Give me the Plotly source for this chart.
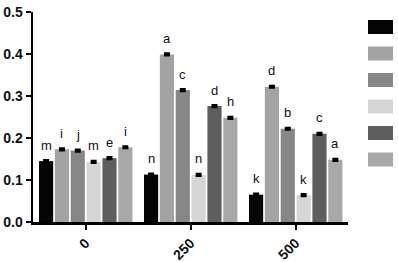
import plotly.graph_objects as go

categories = ["0", "250", "500"]
series_colors = ["#050505", "#a3a3a3", "#878787", "#d6d6d6", "#5e5e5e", "#a8a8a8"]
series_values = [
    [0.145, 0.113, 0.065],
    [0.173, 0.399, 0.322],
    [0.170, 0.314, 0.222],
    [0.143, 0.112, 0.064],
    [0.152, 0.276, 0.210],
    [0.178, 0.248, 0.148],
]
series_letters = [
    ["m", "n", "k"],
    ["i", "a", "d"],
    ["j", "c", "b"],
    ["m", "n", "k"],
    ["e", "d", "c"],
    ["i", "h", "a"],
]
err = 0.002

W, H = 398, 262
ml, mr, mt, mb = 33, 50, 12, 40
pw = W - ml - mr
ph = H - mt - mb

bar_w = 0.135
step = 0.151
start = -0.443

fig = go.Figure()
xs = list(range(len(categories)))
annotations = []
for j, (vals, col, lets) in enumerate(zip(series_values, series_colors, series_letters)):
    off = start + j * step
    fig.add_trace(go.Bar(
        x=xs, y=vals, width=bar_w, offset=off,
        marker=dict(color=col, line=dict(width=0)),
        error_y=dict(type="constant", value=err, color="black", thickness=2.5, width=3),
        showlegend=False, hoverinfo="skip",
    ))
    for i, (v, t) in enumerate(zip(vals, lets)):
        annotations.append(dict(
            x=i + off + bar_w / 2, y=v, xref="x", yref="y", text=t,
            showarrow=False, yshift=16, yanchor="middle",
            font=dict(family="Liberation Sans, Arial", size=13, color="#111111"),
        ))

# legend swatches (no labels)
shapes = []
for k, col in enumerate(series_colors):
    top_px = 20 + k * 26.5
    y1 = (H - mb - top_px) / ph
    y0 = (H - mb - top_px - 14) / ph
    x0 = (368 - ml) / pw
    x1 = (393 - ml) / pw
    shapes.append(dict(type="rect", xref="paper", yref="paper", x0=x0, x1=x1, y0=y0, y1=y1,
                       fillcolor=col, line=dict(width=0)))

fig.update_layout(
    width=W, height=H,
    margin=dict(l=ml, r=mr, t=mt, b=mb, pad=0, autoexpand=False),
    paper_bgcolor="white", plot_bgcolor="white",
    barmode="overlay",
    annotations=annotations,
    shapes=shapes,
    font=dict(family="Liberation Sans, Arial", color="black"),
)
fig.update_xaxes(
    range=[-0.5, 2.5], tickvals=xs, ticktext=[f"<b>{c}</b>" for c in categories],
    tickangle=-45, tickfont=dict(size=14, color="#111111"), automargin=False,
    showline=True, linecolor="black", linewidth=2.5,
    ticks="outside", ticklen=5, tickwidth=2, tickcolor="black",
    showgrid=False, zeroline=False,
)
fig.update_yaxes(
    range=[0, 0.5], tickvals=[0, 0.1, 0.2, 0.3, 0.4, 0.5],
    ticktext=[f"<b>{v:.1f}</b>" for v in [0, 0.1, 0.2, 0.3, 0.4, 0.5]],
    tickfont=dict(size=14, color="#111111"), automargin=False,
    showline=True, linecolor="black", linewidth=2.5,
    ticks="outside", ticklen=5, tickwidth=2, tickcolor="black",
    showgrid=False, zeroline=False,
)
fig.write_html(
    "out.html",
    config={"displayModeBar": False, "staticPlot": True},
    post_script="document.body.style.margin='0';document.body.style.overflow='hidden';",
)
